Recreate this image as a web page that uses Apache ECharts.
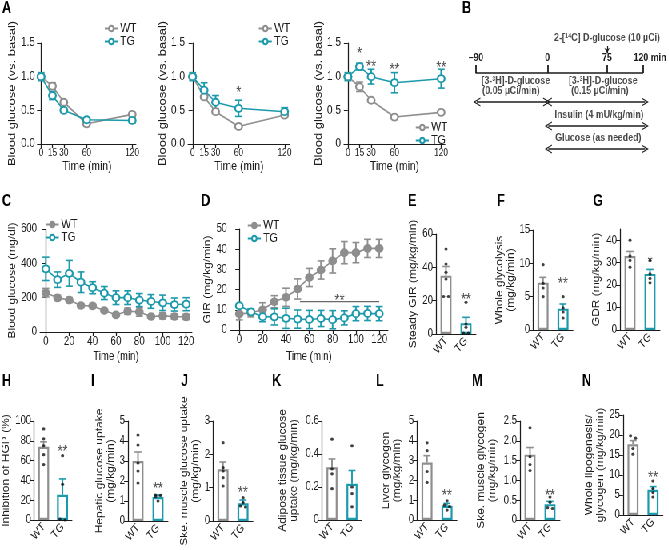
<!DOCTYPE html>
<html>
<head>
<meta charset="utf-8">
<script src="https://cdn.jsdelivr.net/npm/echarts@6/dist/echarts.min.js"></script>
<style>
  html, body { margin: 0; background: #fff; overflow: hidden; }
  #wrap { width: 669px; height: 550px; overflow: hidden; }
  /* the source figure is squeezed horizontally; draw wider and squeeze it the same way */
  #chart { width: 836px; height: 550px; transform: scaleX(0.8); transform-origin: 0 0; }
</style>
</head>
<body>
<div id="wrap"><div id="chart"></div></div>
<script>
// ---- data ----
// A: blood glucose vs basal (three tolerance tests)
const timeA = [0, 15, 30, 60, 120];
const a1WT = [1.0, 0.86, 0.62, 0.30, 0.44];
const a1WTErr = [0.04, 0.05, 0.03, 0.03, 0.03];
const a1TG = [1.0, 0.72, 0.50, 0.36, 0.35];
const a1TGErr = [0.06, 0.06, 0.03, 0.03, 0.04];
const a2WT = [1.0, 0.70, 0.48, 0.26, 0.43];
const a2WTErr = [0.03, 0.03, 0.02, 0.02, 0.03];
const a2TG = [1.0, 0.80, 0.62, 0.53, 0.48];
const a2TGErr = [0.06, 0.11, 0.10, 0.12, 0.06];
const a3WT = [1.0, 0.85, 0.65, 0.40, 0.47];
const a3WTErr = [0.03, 0.07, 0.02, 0.02, 0.02];
const a3TG = [1.0, 1.15, 1.0, 0.91, 0.97];
const a3TGErr = [0.06, 0.05, 0.11, 0.15, 0.14];
const a2StarAt = [60];
const a2StarY = [0.82];
const a2Stars = ['*'];
const a3StarAt = [15, 30, 60, 120];
const a3StarY = [1.40, 1.21, 1.16, 1.19];
const a3Stars = ['*', '**', '**', '**'];

// C / D: clamp time courses
const timeCD = [0, 10, 20, 30, 40, 50, 60, 70, 80, 90, 100, 110, 120];
const timeCDTicks = [0, 20, 40, 60, 80, 100, 120];
const cWT = [229, 199, 186, 154, 152, 125, 100, 121, 117, 90, 94, 90, 88];
const cWTErr = [25, 15, 15, 6, 6, 6, 6, 18, 25, 8, 18, 15, 15];
const cTG = [368, 305, 342, 290, 258, 227, 200, 200, 186, 178, 170, 160, 162];
const cTGErr = [68, 45, 75, 60, 35, 38, 40, 40, 38, 40, 45, 38, 38];
const dWT = [8, 8.5, 10, 14, 16.2, 20.3, 26, 29.7, 34.2, 38.3, 38.3, 40.4, 40.4];
const dWTErr = [3, 2, 3.5, 3, 4.5, 5, 4.5, 4.5, 6, 5.5, 5, 4.5, 4.5];
const dTG = [12, 9, 6.6, 6.5, 5.8, 5.4, 5.2, 5.7, 5.1, 6.0, 8.1, 8.2, 8.1];
const dTGErr = [1, 1.5, 2.5, 4, 5, 4.5, 4.5, 4, 4.5, 3.5, 3.5, 3.5, 3.5];
const dSigSpan = [52, 120];
const dSigY = 14;

// B: protocol timeline
const protocolTicks = [-90, 0, 75, 120];
const protocolArrows = [[-89, -1], [1, 123], [1, 123], [1, 123]];

// E-N: bar panels (WT, TG)
const groups = ['WT', 'TG'];
const barKeys = ['E', 'F', 'G', 'H', 'I', 'J', 'K', 'L', 'M', 'N'];
const meanWT = [35, 7.1, 33, 74, 3.0, 1.55, 0.32, 2.9, 1.65, 17.7];
const meanTG = [6.5, 3.2, 25, 25.5, 1.2, 0.53, 0.22, 0.72, 0.40, 6.3];
const semWT = [5.5, 0.8, 2, 5, 0.45, 0.22, 0.05, 0.35, 0.18, 0.9];
const semTG = [3.5, 0.7, 2, 16, 0.1, 0.1, 0.08, 0.12, 0.07, 0.8];
const barStars = ['**', '**', '*', '**', '**', '**', '', '**', '**', '**'];
const barStarY = [23, 7.6, 32, 73, 1.8, 0.98, 0, 1.43, 0.71, 10.4];
const yMaxs = [60, 15, 45, 100, 5, 3, 0.6, 5, 2.5, 25];
const ySteps = [20, 5, 10, 20, 1, 1, 0.2, 1, 0.5, 5];
const eWT = [51, 42, 37, 33, 22.5, 22.5];
const eTG = [19, 6, 4, 0.5, 0.5];
const fWT = [9.8, 7.0, 6.3, 5.0];
const fTG = [5.0, 3.3, 2.7, 1.8];
const gWT = [40, 33, 31, 28];
const gTG = [31, 25, 23, 21];
const hWT = [92, 82, 75, 66, 56];
const hTG = [65, 36, 1, 0];
const iWT = [4.3, 3.8, 2.9, 2.5, 1.9];
const iTG = [1.3, 1.28, 1.22, 1.0];
const jWT = [2.35, 1.6, 1.5, 1.3, 1.05];
const jTG = [0.7, 0.55, 0.45, 0.42];
const kWT = [0.49, 0.31, 0.28, 0.19];
const kTG = [0.45, 0.2, 0.16, 0.08];
const lWT = [3.9, 3.5, 2.45, 1.9];
const lTG = [0.97, 0.75, 0.68, 0.5];
const mWT = [2.33, 1.6, 1.4, 1.25];
const mTG = [0.58, 0.45, 0.31, 0.29];
const nWT = [19.8, 19.2, 16.6, 15.2];
const nTG = [8.5, 6.6, 5.6, 4.5];
const dotsWT = [eWT, fWT, gWT, hWT, iWT, jWT, kWT, lWT, mWT, nWT];
const dotsTG = [eTG, fTG, gTG, hTG, iTG, jTG, kTG, lTG, mTG, nTG];

// ---- styles ----
const GRAY = '#8e8e8e';
const TEAL = '#1c9aab';
const INK = '#1c1c1c';
const FONT = "'Liberation Sans', Arial, sans-serif";
const SX = 0.8;                 // horizontal squeeze, see CSS
const X = v => v / SX;          // page px -> canvas px (horizontal only)

const grids = [], xAxes = [], yAxes = [], series = [], legends = [], titles = [];

function errorBars(both) {
  return function (params, api) {
    const x = api.value(0), y = api.value(1), e = api.value(2);
    const top = api.coord([x, y + e]);
    const bot = api.coord(both ? [x, y - e] : [x, y]);
    const st = { stroke: api.visual('color'), lineWidth: 1.6, fill: null };
    const w = X(3.5);
    const kids = [
      { type: 'line', shape: { x1: top[0], y1: top[1], x2: bot[0], y2: bot[1] }, style: { stroke: st.stroke, lineWidth: 1.9 } },
      { type: 'line', shape: { x1: top[0] - w, y1: top[1], x2: top[0] + w, y2: top[1] }, style: st }
    ];
    if (both) kids.push({ type: 'line', shape: { x1: bot[0] - w, y1: bot[1], x2: bot[0] + w, y2: bot[1] }, style: st });
    return { type: 'group', children: kids };
  };
}

function yAxisBase(gi, p) {
  return {
    gridIndex: gi, type: 'value', min: 0, max: p.yMax, interval: p.yStep,
    name: p.yName, nameLocation: 'middle', nameGap: X(p.yNameGap),
    nameTextStyle: { fontFamily: FONT, fontSize: p.nameFont || 12, color: INK, lineHeight: 14 },
    axisLine: { show: true, lineStyle: { color: INK, width: 1.25 } },
    axisTick: { show: true, length: X(4), lineStyle: { color: INK }, customValues: p.yTicks },
    axisLabel: { margin: X(3), fontFamily: FONT, fontSize: p.font || 12, color: INK,
                 formatter: p.yFmt, customValues: p.yTicks },
    splitLine: { show: false }
  };
}

function starSeries(gi, pts, offsetY) {
  series.push({
    type: 'scatter', xAxisIndex: gi, yAxisIndex: gi, symbolSize: 1, silent: true,
    itemStyle: { color: 'rgba(0,0,0,0)' }, z: 6,
    data: pts.map(s => ({ value: [s[0], s[1]], label: { formatter: s[2] } })),
    label: { show: true, position: 'inside', offset: [0, offsetY], color: INK,
             fontFamily: FONT, fontSize: 16 }
  });
}

function timePanel(p) {
  const gi = grids.length;
  grids.push({ left: X(p.left), top: p.top, width: X(p.width), height: p.height });
  xAxes.push({
    gridIndex: gi, type: 'value', min: p.xMin, max: p.xMax,
    name: 'Time (min)', nameLocation: 'middle', nameGap: p.xNameGap,
    nameTextStyle: { fontFamily: FONT, fontSize: p.nameFont, color: INK },
    axisLine: { show: true, onZero: false, lineStyle: { color: INK, width: 1 } },
    axisTick: { show: true, length: 4, customValues: p.xTicks, lineStyle: { color: INK, width: 1.25 } },
    axisLabel: { customValues: p.xTicks, margin: 4, fontFamily: FONT, fontSize: p.xFont || p.font, color: INK },
    splitLine: { show: false }
  });
  yAxes.push(yAxisBase(gi, p));
  const names = [];
  p.groups.forEach(g => {
    const key = g.name + '·' + p.key;
    names.push(key);
    series.push({
      type: 'line', name: key, xAxisIndex: gi, yAxisIndex: gi, z: 4,
      data: p.x.map((t, i) => [t, g.y[i]]),
      symbol: g.symbol, symbolSize: [X(7), 7],
      lineStyle: { color: g.color, width: 1.6 },
      itemStyle: { color: g.color, borderColor: g.color, borderWidth: 1.8 }
    });
    series.push({
      type: 'custom', name: 'err ' + key, xAxisIndex: gi, yAxisIndex: gi, z: 3,
      renderItem: errorBars(true), itemStyle: { color: g.color },
      data: p.x.map((t, i) => [t, g.y[i], g.e[i]])
    });
  });
  legends.push({
    data: names, left: X(p.legend[0]), top: p.legend[1], orient: 'vertical', padding: 0,
    itemWidth: X(13), itemHeight: 7, itemGap: 0, selectedMode: false,
    formatter: n => n.split('·')[0],
    textStyle: { fontFamily: FONT, fontSize: p.legendFont || 13, color: INK,
                 lineHeight: p.legend[2], padding: [0, 0, 0, -2] }
  });
  return gi;
}

// ---- A ----
const fmt1 = v => v.toFixed(1);
const fmt0 = v => (v === 0 ? '0' : v.toFixed(1));
const aCommon = { top: 43, height: 101, yMax: 1.5, yStep: 0.5, yName: 'Blood glucose (vs. basal)',
                  yNameGap: 20, nameFont: 13, font: 12.5, xFont: 10.5, xNameGap: 15, x: timeA, xTicks: timeA };
timePanel(Object.assign({}, aCommon, {
  key: 'A1', left: 38, width: 98, xMin: -4, xMax: 125, yFmt: fmt1, legend: [104, 22, 12.5],
  groups: [{ name: 'WT', y: a1WT, e: a1WTErr, color: GRAY, symbol: 'emptyCircle' },
           { name: 'TG', y: a1TG, e: a1TGErr, color: TEAL, symbol: 'emptyCircle' }]
}));
const gA2 = timePanel(Object.assign({}, aCommon, {
  key: 'A2', left: 188, width: 102, xMin: -6, xMax: 127, yFmt: fmt1, legend: [258, 22, 12.5],
  groups: [{ name: 'WT', y: a2WT, e: a2WTErr, color: GRAY, symbol: 'emptyCircle' },
           { name: 'TG', y: a2TG, e: a2TGErr, color: TEAL, symbol: 'emptyCircle' }]
}));
starSeries(gA2, a2StarAt.map((t, i) => [t, a2StarY[i], a2Stars[i]]), 5);
const gA3 = timePanel(Object.assign({}, aCommon, {
  key: 'A3', left: 344, width: 101, xMin: -5, xMax: 125, yFmt: fmt0, legend: [415, 121, 10],
  groups: [{ name: 'WT', y: a3WT, e: a3WTErr, color: GRAY, symbol: 'emptyCircle' },
           { name: 'TG', y: a3TG, e: a3TGErr, color: TEAL, symbol: 'emptyCircle' }]
}));
starSeries(gA3, a3StarAt.map((t, i) => [t, a3StarY[i], a3Stars[i]]), 5);

// ---- C ----
timePanel({
  key: 'C', left: 40, top: 229, width: 152, height: 103, xMin: -5, xMax: 125,
  x: timeCD, xTicks: timeCDTicks,
  yMax: 600, yStep: 200, yName: 'Blood glucose (mg/dl)', yNameGap: 22, nameFont: 12, font: 12,
  xNameGap: 19, legend: [45, 218, 10],
  groups: [{ name: 'WT', y: cWT, e: cWTErr, color: GRAY, symbol: 'circle' },
           { name: 'TG', y: cTG, e: cTGErr, color: TEAL, symbol: 'emptyCircle' }]
});

// ---- D ----
const gD = timePanel({
  key: 'D', left: 230, top: 229, width: 158, height: 101, xMin: -8, xMax: 127.5,
  x: timeCD, xTicks: timeCDTicks,
  yMax: 50, yStep: 10, yName: 'GIR (mg/kg/min)', yNameGap: 15, nameFont: 12, font: 12,
  xNameGap: 21, legend: [247, 219, 12],
  groups: [{ name: 'WT', y: dWT, e: dWTErr, color: GRAY, symbol: 'circle' },
           { name: 'TG', y: dTG, e: dTGErr, color: TEAL, symbol: 'emptyCircle' }]
});
series.push({
  type: 'line', xAxisIndex: gD, yAxisIndex: gD, symbol: 'none', silent: true, z: 2,
  lineStyle: { color: '#6a6a6a', width: 1.2 },
  data: dSigSpan.map(t => [t, dSigY])
});
starSeries(gD, [[(dSigSpan[0] + dSigSpan[1]) / 2, 16.3, '**']], 5);

// ---- B: protocol ----
const gB = grids.length;
grids.push({ left: X(476), top: 73, width: X(170), height: 80 });
xAxes.push({
  gridIndex: gB, type: 'value', min: -90, max: 120, position: 'top',
  axisLine: { show: true, onZero: false, lineStyle: { color: INK, width: 1.5 } },
  axisTick: { show: true, length: 8, customValues: protocolTicks, lineStyle: { color: INK, width: 1.8 } },
  axisLabel: {
    customValues: protocolTicks, margin: 10, fontFamily: FONT, fontSize: 11, fontWeight: 'bold', color: INK,
    formatter: v => (v === 120 ? '{r|120 min}' : v < 0 ? '\u2013' + Math.abs(v) : String(v)),
    rich: { r: { fontFamily: FONT, fontSize: 11, fontWeight: 'bold', color: INK, padding: [0, 0, 0, 18] } }
  },
  splitLine: { show: false }
});
yAxes.push({ gridIndex: gB, type: 'value', min: 0, max: 80, inverse: true, show: false });
const chevron = 'path://M0,10 L5,0 L10,10 L8.6,10 L5,2.8 L1.4,10 Z';
const protocolRowY = [29, 29, 53, 76];
series.push({
  type: 'lines', coordinateSystem: 'cartesian2d', xAxisIndex: gB, yAxisIndex: gB, clip: false,
  symbol: [chevron, chevron], symbolSize: [9, 9], silent: true,
  lineStyle: { color: INK, width: 1.5, opacity: 1 },
  data: protocolArrows.map((s, i) => ({ coords: [[s[0], protocolRowY[i]], [s[1], protocolRowY[i]]] }))
});
series.push({
  type: 'lines', coordinateSystem: 'cartesian2d', xAxisIndex: gB, yAxisIndex: gB, clip: false,
  symbol: ['none', 'arrow'], symbolSize: [5, 5], silent: true,
  lineStyle: { color: INK, width: 1.2, opacity: 1 },
  data: [{ coords: [[75, -27], [75, -20]] }]
});
const supRich = {
  s: { fontFamily: FONT, fontSize: 7, fontWeight: 'bold', color: INK, verticalAlign: 'top', padding: [0, 0, 4, 0] },
  t: { fontFamily: FONT, fontSize: 11, fontWeight: 'bold', color: INK }
};
const protocolText = [
  [75, -35, '{t|2-[}{s|14}{t|C] D-glucose (10 µCi)}'],
  [-40, 8, '{t|[3-}{s|3}{t|H]-D-glucose}'],
  [-46, 18, '{t|(0.05 µCi/min)}'],
  [70, 8, '{t|[3-}{s|3}{t|H]-D-glucose}'],
  [66, 18, '{t|(0.15 µCi/min)}'],
  [65, 42, '{t|Insulin (4 mU/kg/min)}'],
  [64, 65, '{t|Glucose (as needed)}']
];
series.push({
  type: 'scatter', xAxisIndex: gB, yAxisIndex: gB, clip: false, symbolSize: 1, silent: true,
  itemStyle: { color: 'rgba(0,0,0,0)' },
  data: protocolText.map(t => ({ value: [t[0], t[1]], label: { formatter: t[2] } })),
  label: { show: true, position: 'inside', rich: supRich }
});

// ---- E-N: bar panels ----
const barLayout = [
  { left: 436, top: 234, height: 100, name: 'Steady GIR (mg/kg/min)', gap: 16 },
  { left: 533, top: 230, height: 100, name: 'Whole glycolysis\n(mg/kg/min)', gap: 16 },
  { left: 620, top: 229, height: 101, name: 'GDR (mg/kg/min)', gap: 18 },
  { left: 32, top: 421, height: 99, name: 'Inhibition of HGP (%)', gap: 17 },
  { left: 128, top: 421, height: 100, name: 'Hepatic glucose uptake\n(mg/kg/min)', gap: 11 },
  { left: 213, top: 421, height: 100, name: 'Ske. muscle glucose uptake\n(mg/kg/min)', gap: 8 },
  { left: 322, top: 421, height: 99, name: 'Adipose tissue glucose\nuptake (mg/kg/min)', gap: 22 },
  { left: 417, top: 421, height: 99, name: 'Liver glycogen\n(mg/kg/min)', gap: 14 },
  { left: 520, top: 421, height: 99, name: 'Ske. muscle glycogen\n(mg/kg/min)', gap: 22 },
  { left: 623, top: 415, height: 100, name: 'Whole lipogenesis/\nglycogen (mg/kg/min)', gap: 16 }
];

function jitter(vals, max) {
  return vals.map((v, i) => {
    const close = (w) => Math.abs(w - v) < max * 0.03;
    const n = vals.filter((w, j) => j !== i && close(w)).length;
    if (!n) return 0;
    const rank = vals.slice(0, i).filter(close).length;
    return rank % 2 ? X(2.5) : -X(2.5);
  });
}

barKeys.forEach((k, b) => {
  const L = barLayout[b];
  const gi = grids.length;
  const max = yMaxs[b], step = ySteps[b];
  grids.push({ left: X(L.left), top: L.top, width: X(40), height: L.height });
  xAxes.push({
    gridIndex: gi, type: 'category', data: groups,
    axisLine: { show: true, lineStyle: { color: INK, width: 1 } },
    axisTick: { show: false },
    axisLabel: { rotate: 45, margin: 5, fontFamily: FONT, fontSize: 12, color: INK, interval: 0 },
    splitLine: { show: false }
  });
  const ticks = [];
  for (let v = 0; v <= max + 1e-9; v += step) ticks.push(+v.toFixed(3));
  const dec = step < 1 ? 1 : 0;
  yAxes.push(yAxisBase(gi, {
    yMax: max, yStep: max % step === 0 ? step : undefined, yTicks: ticks,
    yName: L.name, yNameGap: L.gap, nameFont: 12, font: 12,
    yFmt: v => (v === 0 ? '0' : v.toFixed(dec))
  }));
  series.push({
    type: 'bar', xAxisIndex: gi, yAxisIndex: gi, barWidth: X(11), z: 2, silent: true,
    data: [
      { value: meanWT[b], itemStyle: { color: '#fff', borderColor: GRAY, borderWidth: 2.2 } },
      { value: meanTG[b], itemStyle: { color: '#fff', borderColor: TEAL, borderWidth: 2.2 } }
    ]
  });
  series.push({
    type: 'custom', xAxisIndex: gi, yAxisIndex: gi, z: 3, renderItem: errorBars(false), silent: true,
    data: [
      { value: [0, meanWT[b], semWT[b]], itemStyle: { color: GRAY } },
      { value: [1, meanTG[b], semTG[b]], itemStyle: { color: TEAL } }
    ]
  });
  const dots = [];
  [dotsWT[b], dotsTG[b]].forEach((vals, c) => {
    const off = jitter(vals, max);
    vals.forEach((v, i) => dots.push({ value: [c, v], symbolOffset: [off[i], 0] }));
  });
  series.push({
    type: 'scatter', xAxisIndex: gi, yAxisIndex: gi, z: 4, symbolSize: [X(3.2), 3.2], silent: true,
    itemStyle: { color: '#111' }, data: dots
  });
  if (barStars[b]) starSeries(gi, [[1, barStarY[b], barStars[b]]], 5);
});

// ---- panel letters ----
const letters = [['A', 2, 1], ['B', 462, 1], ['C', 2, 194], ['D', 201, 194], ['E', 408, 194],
                 ['F', 497, 194], ['G', 593, 194], ['H', 2, 374], ['I', 91, 374], ['J', 181, 374],
                 ['K', 272, 374], ['L', 376, 374], ['M', 472, 374], ['N', 582, 374]];
letters.forEach(l => titles.push({
  text: l[0], left: X(l[1]), top: l[2], padding: 0,
  textStyle: { fontFamily: FONT, fontSize: 16, fontWeight: 'bold', color: '#000' }
}));

const chart = echarts.init(document.getElementById('chart'), null, { renderer: 'canvas' });
chart.setOption({
  animation: false,
  backgroundColor: '#fff',
  textStyle: { fontFamily: FONT },
  title: titles,
  legend: legends,
  grid: grids,
  xAxis: xAxes,
  yAxis: yAxes,
  series: series
});
</script>
</body>
</html>
